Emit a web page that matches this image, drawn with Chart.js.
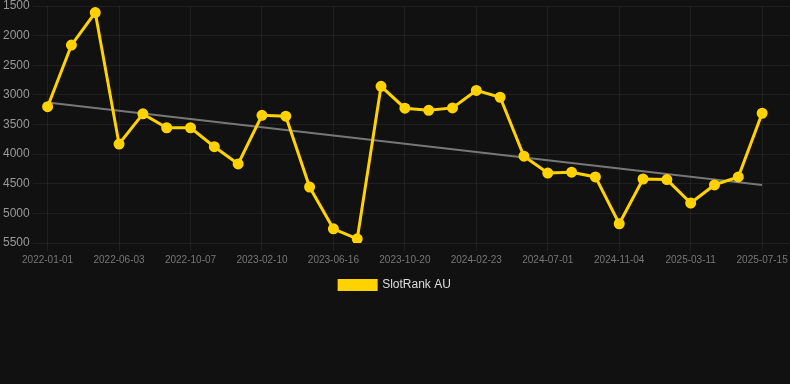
<!DOCTYPE html>
<html lang="en">
<head>
    <meta charset="UTF-8">
    <title>SlotRank AU</title>
    <style>
        * {
            margin: 0;
            padding: 0;
            box-sizing: border-box;
        }

        body {
            background-color: #111111;
            width: 790px;
            height: 384px;
            overflow: hidden;
        }

        /* Chart box */
        .chart-box {
            position: relative;
            width: 790px;
            height: 301px;
        }
    </style>
</head>
<body>

<div class="chart-box">
    <canvas id="rankChart"></canvas>
</div>

<script src="https://cdn.jsdelivr.net/npm/chart.js"></script>
<script>
    // Dates on the x axis (one per point)
    const dates = [
        '2022-01-01', '2022-02-21', '2022-04-13', '2022-06-03', '2022-07-15', '2022-08-26',
        '2022-10-07', '2022-11-18', '2022-12-30', '2023-02-10', '2023-03-24', '2023-05-05',
        '2023-06-16', '2023-07-28', '2023-09-08', '2023-10-20', '2023-12-01', '2024-01-12',
        '2024-02-23', '2024-04-05', '2024-05-17', '2024-07-01', '2024-08-12', '2024-09-23',
        '2024-11-04', '2024-12-16', '2025-01-27', '2025-03-11', '2025-04-22', '2025-06-03',
        '2025-07-15'
    ];

    // Rank values (lower is better, axis is reversed)
    const ranks = [
        3200, 2160, 1610, 3830, 3320, 3555,
        3555, 3875, 4165, 3345, 3360, 4555,
        5260, 5430, 2855, 3225, 3260, 3220,
        2925, 3040, 4035, 4320, 4305, 4385,
        5175, 4420, 4430, 4825, 4520, 4385,
        3310
    ];

    // Trend line, first and last value
    const trendEnds = [3130, 4520];

    const yTicks = [1500, 2000, 2500, 3000, 3500, 4000, 4500, 5000, 5500];

    const rankPoints = ranks.map((v, i) => ({ x: i, y: v }));
    const trendPoints = [
        { x: 0, y: trendEnds[0] },
        { x: dates.length - 1, y: trendEnds[1] }
    ];

    const gridColor = 'rgba(255, 255, 255, 0.06)';

    const ctx = document.getElementById('rankChart').getContext('2d');
    const rankChart = new Chart(ctx, {
        type: 'line',
        data: {
            datasets: [{
                label: 'SlotRank AU',
                data: rankPoints,
                borderColor: '#ffd200',
                backgroundColor: '#ffd200',
                borderWidth: 3,
                pointRadius: 4.5,
                pointBorderWidth: 2,
                pointHoverRadius: 5,
                tension: 0
            }, {
                label: 'trend',
                data: trendPoints,
                borderColor: '#777777',
                backgroundColor: '#777777',
                borderWidth: 2,
                pointRadius: 0,
                tension: 0
            }]
        },
        options: {
            responsive: true,
            maintainAspectRatio: false,
            animation: false,
            layout: {
                autoPadding: false
            },
            plugins: {
                legend: {
                    display: true,
                    position: 'bottom',
                    labels: {
                        color: '#dddddd',
                        font: { size: 12 },
                        boxWidth: 37,
                        boxHeight: 9,
                        filter: item => item.text !== 'trend'
                    }
                },
                tooltip: { enabled: false }
            },
            scales: {
                x: {
                    type: 'linear',
                    min: -0.29,
                    max: 31.17,
                    afterBuildTicks: axis => {
                        axis.ticks = dates
                            .map((d, i) => ({ value: i }))
                            .filter(t => t.value % 3 === 0);
                    },
                    // let the plot run to the right edge
                    afterFit: axis => {
                        axis.paddingRight = 0;
                    },
                    ticks: {
                        color: '#777777',
                        font: { size: 10 },
                        autoSkip: false,
                        maxRotation: 0,
                        callback: value => dates[value] || ''
                    },
                    grid: { color: gridColor },
                    border: { display: false }
                },
                y: {
                    reverse: true,
                    min: yTicks[0],
                    max: yTicks[yTicks.length - 1],
                    afterBuildTicks: axis => {
                        axis.ticks = yTicks.map(v => ({ value: v }));
                    },
                    afterFit: axis => {
                        axis.paddingTop = 6;
                    },
                    ticks: {
                        color: '#999999',
                        font: { size: 12 },
                        callback: value => String(value)
                    },
                    grid: { color: gridColor },
                    border: { display: false }
                }
            }
        }
    });
</script>

</body>
</html>
